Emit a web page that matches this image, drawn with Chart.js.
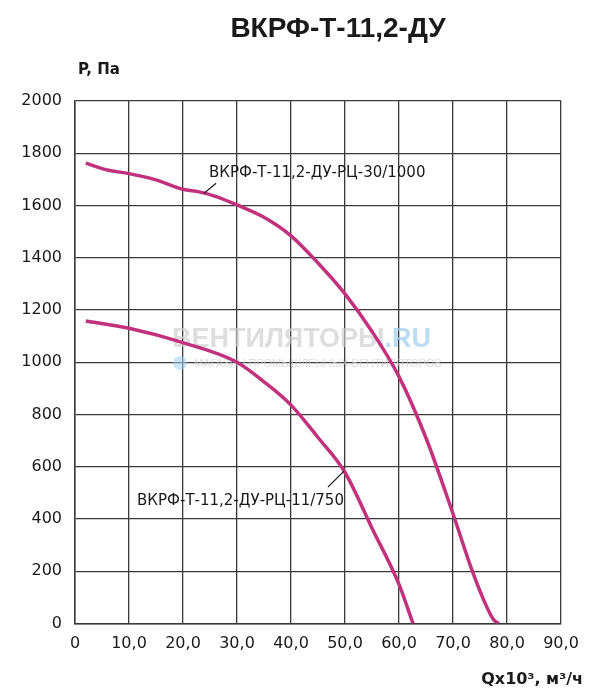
<!DOCTYPE html>
<html>
<head>
<meta charset="utf-8">
<script src="https://cdn.jsdelivr.net/npm/chart.js@4"></script>
<style>
  body { margin: 0; background: #fff; }
  #wrap { width: 600px; height: 696px; }
</style>
</head>
<body>
<div id="wrap"><canvas id="chart1"></canvas></div>
<script>
// curve ВКРФ-Т-11,2-ДУ-РЦ-30/1000
let q1 = [2, 6, 10, 15, 20, 23, 26, 30, 35, 40, 45, 50, 55, 60, 65, 70, 73.5, 76, 77.5, 78.5];
let p1 = [1762, 1736, 1722, 1698, 1662, 1652, 1635, 1602, 1555, 1484, 1380, 1262, 1118, 945, 710, 420, 205, 75, 15, 0];

// curve ВКРФ-Т-11,2-ДУ-РЦ-11/750
let q2 = [2, 10, 20, 30, 35, 40, 45, 50, 55, 60, 62.6];
let p2 = [1158, 1130, 1075, 1000, 925, 836, 712, 578, 365, 150, 0];

let xTickLabels = ['0', '10,0', '20,0', '30,0', '40,0', '50,0', '60,0', '70,0', '80,0', '90,0'];
let yTicks = [0, 200, 400, 600, 800, 1000, 1200, 1400, 1600, 1800, 2000];

let seriesNames = ['ВКРФ-Т-11,2-ДУ-РЦ-30/1000', 'ВКРФ-Т-11,2-ДУ-РЦ-11/750'];
let title = 'ВКРФ-Т-11,2-ДУ';
let yTitle = 'P, Па';
let xTitle = 'Qx10³, м³/ч';

let curveColor = '#c2317c';
let gridColor = '#3a3a3a';

function toPoints(xs, ys) {
    return xs.map((x, i) => ({ x: x, y: ys[i] }));
}

// texts, leader lines and watermark
let decorPlugin = {
    id: 'decor',
    beforeDatasetsDraw(chart) {
        let ctx = chart.ctx;
        ctx.save();
        // faint watermark
        ctx.font = 'bold 27px "Liberation Sans", Arial, sans-serif';
        ctx.textBaseline = 'alphabetic';
        ctx.textAlign = 'left';
        ctx.fillStyle = 'rgba(205,205,205,0.65)';
        let w1 = 'ВЕНТИЛЯТОРЫ';
        ctx.fillText(w1, 172, 347);
        let ww = ctx.measureText(w1).width;
        ctx.fillStyle = 'rgba(160,205,240,0.7)';
        ctx.fillText('.RU', 172 + ww, 347);
        ctx.font = '11px "Liberation Sans", Arial, sans-serif';
        ctx.fillStyle = 'rgba(205,205,205,0.7)';
        ctx.fillText('МАГАЗИН ПРОМЫШЛЕННЫХ ВЕНТИЛЯТОРОВ', 194, 367);
        ctx.fillStyle = 'rgba(160,205,240,0.55)';
        ctx.beginPath();
        ctx.arc(180, 363, 7, 0, Math.PI * 2);
        ctx.fill();
        ctx.restore();
    },
    afterDraw(chart) {
        let ctx = chart.ctx;
        let xs = chart.scales.x, ys = chart.scales.y;
        ctx.save();
        ctx.fillStyle = '#1a1a1a';
        ctx.textBaseline = 'alphabetic';

        ctx.font = 'bold 28px "Liberation Sans", Arial, sans-serif';
        ctx.textAlign = 'center';
        ctx.fillText(title, 338, 37);

        ctx.font = 'bold 15px "DejaVu Sans", sans-serif';
        ctx.textAlign = 'left';
        ctx.fillText(yTitle, 78, 74);

        ctx.textAlign = 'right';
        ctx.font = 'bold 16px "DejaVu Sans", sans-serif';
        ctx.fillText(xTitle, 583, 684);

        // leader lines anchored to the curves
        ctx.strokeStyle = '#1a1a1a';
        ctx.lineWidth = 1.2;
        ctx.font = '15px "DejaVu Sans", sans-serif';

        let ax = xs.getPixelForValue(23.9), ay = ys.getPixelForValue(1647);
        ctx.beginPath();
        ctx.moveTo(ax, ay);
        ctx.lineTo(ax + 12, ay - 10);
        ctx.stroke();
        ctx.textAlign = 'left';
        ctx.fillText(seriesNames[0], ax + 5, ay - 16);

        let bx = xs.getPixelForValue(49.8), by = ys.getPixelForValue(583);
        ctx.beginPath();
        ctx.moveTo(bx, by);
        ctx.lineTo(bx - 16, by + 16);
        ctx.stroke();
        ctx.textAlign = 'right';
        ctx.fillText(seriesNames[1], bx, by + 34);

        ctx.restore();
    }
};

let ctx1 = document.getElementById('chart1').getContext('2d');

new Chart(ctx1, {
    type: 'scatter',
    data: {
        datasets: [{
            label: seriesNames[0],
            data: toPoints(q1, p1),
            showLine: true,
            borderColor: curveColor,
            borderWidth: 3.5,
            pointRadius: 0,
            cubicInterpolationMode: 'monotone'
        },
        {
            label: seriesNames[1],
            data: toPoints(q2, p2),
            showLine: true,
            borderColor: curveColor,
            borderWidth: 3.5,
            pointRadius: 0,
            cubicInterpolationMode: 'monotone'
        }]
    },
    options: {
        responsive: true,
        maintainAspectRatio: false,
        animation: false,
        layout: {
            padding: { left: 0, right: 39, top: 101, bottom: 0 }
        },
        plugins: {
            legend: { display: false },
            tooltip: { enabled: false }
        },
        scales: {
            x: {
                type: 'linear',
                min: 0,
                max: 90,
                afterFit: s => { s.height = 72.5; },
                afterBuildTicks: s => { s.ticks = xTickLabels.map((t, i) => ({ value: i * 10 })); },
                ticks: {
                    padding: 11,
                    color: '#1a1a1a',
                    font: { family: '"DejaVu Sans", sans-serif', size: 16 },
                    callback: (v, i) => xTickLabels[i]
                },
                grid: { color: gridColor, lineWidth: 1.3, drawTicks: false },
                border: { color: gridColor, width: 1.5 }
            },
            y: {
                min: 0,
                max: 2000,
                afterFit: s => { s.width = 75; },
                afterBuildTicks: s => { s.ticks = yTicks.map(v => ({ value: v })); },
                ticks: {
                    padding: 13,
                    color: '#1a1a1a',
                    font: { family: '"DejaVu Sans", sans-serif', size: 16 },
                    callback: v => String(v)
                },
                grid: { color: gridColor, lineWidth: 1.3, drawTicks: false },
                border: { color: gridColor, width: 1.5 }
            }
        }
    },
    plugins: [decorPlugin]
});
</script>
</body>
</html>
